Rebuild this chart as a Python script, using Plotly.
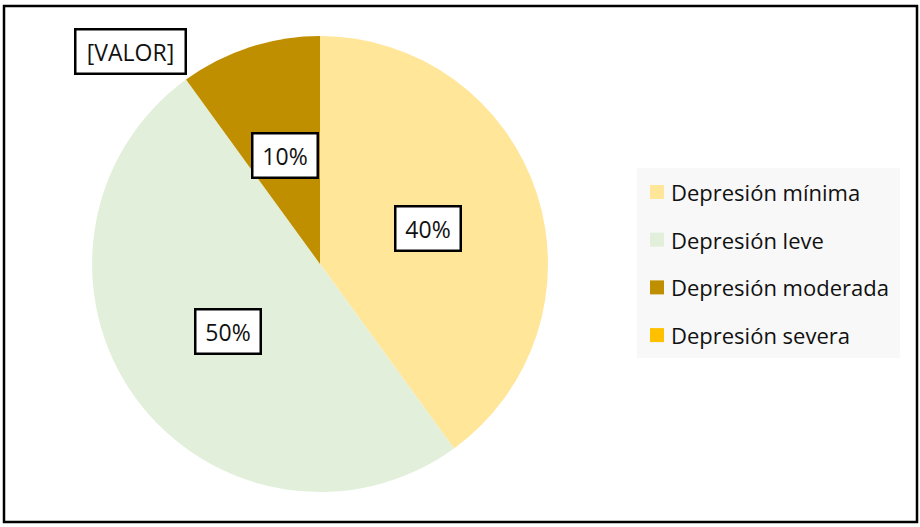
import math
import plotly.graph_objects as go

categories = ["Depresión mínima", "Depresión leve", "Depresión moderada", "Depresión severa"]
values = [40, 50, 10, 0]
colors = ["#FFE699", "#E2EFDA", "#BF8F00", "#FFC000"]

W, H = 920, 527
FONT = "Open Sans"

# pie geometry in pixels
cx, cy, r = 320, 264, 228

fig = go.Figure(
    go.Pie(
        labels=categories,
        values=values,
        sort=False,
        direction="clockwise",
        rotation=0,
        marker=dict(colors=colors, line=dict(width=0)),
        textinfo="none",
        hoverinfo="label+percent",
        showlegend=False,
        domain=dict(x=[(cx - r) / W, (cx + r) / W], y=[1 - (cy + r) / H, 1 - (cy - r) / H]),
    )
)

# boxed data labels at half radius, angle from slice midpoints
total = sum(values)
cum = 0
for v in values:
    mid = (cum + v / 2) / total * 2 * math.pi
    cum += v
    if v == 0:
        # Excel leaves a placeholder label outside the pie
        x, y, txt, bw = 130, 52, "[VALOR]", 98
    else:
        x = cx + 0.5 * r * math.sin(mid)
        y = cy - 0.5 * r * math.cos(mid)
        txt, bw = f"{round(v / total * 100)}%", 53
    fig.add_annotation(
        x=x / W, y=1 - y / H, xref="paper", yref="paper", text=txt, showarrow=False,
        xanchor="center", yanchor="middle",
        font=dict(family=FONT, size=23, color="#111111"), width=bw,
        bgcolor="white", bordercolor="black", borderwidth=2.5, borderpad=5,
    )

# legend drawn by hand to keep Excel spacing
fig.add_shape(type="rect", xref="paper", yref="paper", x0=637 / W, x1=900 / W,
              y0=1 - 358 / H, y1=1 - 168 / H, fillcolor="#F8F8F8", line=dict(width=0), layer="below")
for i, (cat, col) in enumerate(zip(categories, colors)):
    ym = 192 + i * 47.7
    fig.add_shape(type="rect", xref="paper", yref="paper", x0=650 / W, x1=664 / W,
                  y0=1 - (ym + 7) / H, y1=1 - (ym - 7) / H, fillcolor=col, line=dict(width=0))
    fig.add_annotation(x=669 / W, y=1 - ym / H, xref="paper", yref="paper", text=cat,
                       showarrow=False, xanchor="left", yanchor="middle",
                       font=dict(family=FONT, size=22, color="#111111"))

# outer chart border
fig.add_shape(type="rect", xref="paper", yref="paper", x0=4 / W, x1=917 / W,
              y0=1 - 522 / H, y1=1 - 6 / H, line=dict(color="black", width=2.5))

fig.update_layout(
    width=W, height=H,
    margin=dict(l=0, r=0, t=0, b=0),
    paper_bgcolor="white",
    font=dict(family=FONT),
)

# page body has a default 8px margin; drop it so the figure fills the window
fig.write_html("out.html", config={"displayModeBar": False},
               post_script="document.body.style.margin='0';")
